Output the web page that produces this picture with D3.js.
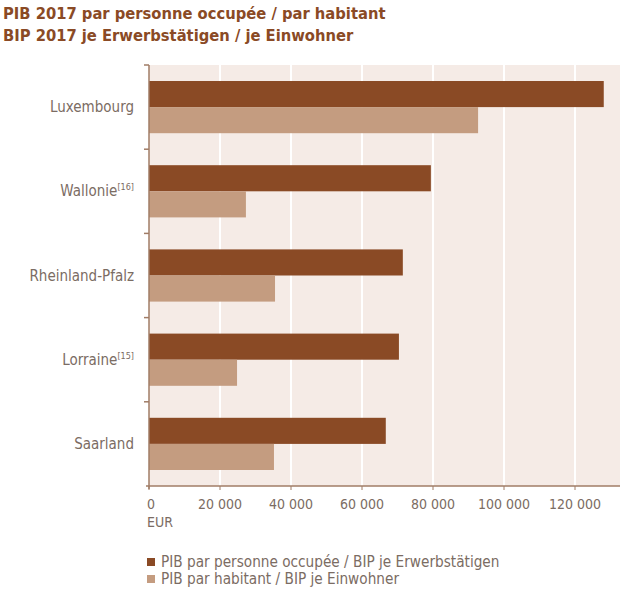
<!DOCTYPE html>
<html><head><meta charset="utf-8">
<script src="https://cdn.jsdelivr.net/npm/d3@7"></script>
<style>
body{margin:0;background:#fff;}
text{font-family:"Liberation Sans Narrow","DejaVu Sans Condensed","Roboto Condensed",Roboto,sans-serif;}
</style></head><body>
<svg id="c" width="623" height="596"></svg>
<script>
const categories = ["Luxembourg","Wallonie","Rheinland-Pfalz","Lorraine","Saarland"];
const notes = ["","[16]","","[15]",""];
const perWorker = [128100, 79400, 71500, 70400, 66700];
const perCapita = [92700, 27300, 35500, 24800, 35200];
const ticks = [0,20000,40000,60000,80000,100000,120000];
const seriesNames = ["PIB par personne occupée / BIP je Erwerbstätigen","PIB par habitant / BIP je Einwohner"];
const titles = ["PIB 2017 par personne occupée / par habitant","BIP 2017 je Erwerbstätigen / je Einwohner"];

(function(){
const dark="#8a4a25", light="#c49c80", bg="#f5ebe6", txt="#7b6c63", axisC="#a07c66";
const svg=d3.select("#c");
const L=149, R=620, T=65, B=486;
const x=d3.scaleLinear().domain([0,120000]).range([L,575]);
const y=d3.scaleBand().domain(categories).range([T,B]).paddingInner(0.38).paddingOuter(0.19);
const yb=d3.scaleBand().domain(categories).range([T,B]);
const sub=d3.scaleBand().domain([0,1]).range([0,y.bandwidth()]);

svg.append("rect").attr("x",L).attr("y",T).attr("width",R-L).attr("height",B-T).attr("fill",bg);
svg.append("g").selectAll("line").data(ticks.slice(1)).join("line")
 .attr("x1",d=>x(d)).attr("x2",d=>x(d)).attr("y1",T).attr("y2",B)
 .attr("stroke","#fff").attr("stroke-width",2);

const rows=categories.map((c,i)=>({c,v:[perWorker[i],perCapita[i]]}));
const g=svg.append("g");
rows.forEach(r=>{
  r.v.forEach((v,j)=>{
    g.append("rect").attr("x",x(0)).attr("y",y(r.c)+sub(j)).attr("width",x(v)-x(0)).attr("height",sub.bandwidth())
     .attr("fill",j===0?dark:light);
  });
});

svg.append("line").attr("x1",L).attr("x2",L).attr("y1",T).attr("y2",B+3).attr("stroke",axisC).attr("stroke-width",1.5);
svg.append("line").attr("x1",L-3).attr("x2",R).attr("y1",B).attr("y2",B).attr("stroke",axisC).attr("stroke-width",1.5);
const bounds=[T].concat(categories.slice(1).map(c=>yb(c)));
svg.append("g").selectAll("line").data(bounds).join("line")
 .attr("x1",L-5).attr("x2",L).attr("y1",d=>d).attr("y2",d=>d).attr("stroke",axisC).attr("stroke-width",1.5);
svg.append("g").selectAll("line").data(ticks).join("line")
 .attr("x1",d=>x(d)).attr("x2",d=>x(d)).attr("y1",B).attr("y2",B+4).attr("stroke",axisC).attr("stroke-width",1);

const fmt=d=>d===0?"0":d3.format(",")(d).replace(/,/g," ");
svg.append("g").selectAll("text").data(ticks).join("text")
 .attr("x",d=>x(d)).attr("y",509).attr("text-anchor",d=>d===0?"start":"middle").attr("dx",d=>d===0?-2:0)
 .attr("font-size",14).attr("fill",txt).text(fmt);
svg.append("text").attr("x",147).attr("y",527).attr("font-size",14).attr("fill",txt).text("EUR");

categories.forEach((c,i)=>{
  const t=svg.append("text").attr("x",134).attr("y",yb(c)+yb.bandwidth()/2+5).attr("text-anchor","end")
   .attr("font-size",15).attr("fill",txt);
  t.append("tspan").text(c);
  if(notes[i]) t.append("tspan").attr("font-size",9).attr("dy",-6).text(notes[i]);
});

titles.forEach((s,i)=>{
  svg.append("text").attr("x",3).attr("y",19+i*22).attr("font-size",16.4).attr("font-weight","bold").attr("fill",dark).text(s);
});

seriesNames.forEach((s,i)=>{
  svg.append("rect").attr("x",147).attr("y",558+i*17).attr("width",8).attr("height",8).attr("fill",i===0?dark:light);
  svg.append("text").attr("x",161).attr("y",567+i*17).attr("font-size",15.2).attr("fill",txt).text(s);
});
})();
</script></body></html>
